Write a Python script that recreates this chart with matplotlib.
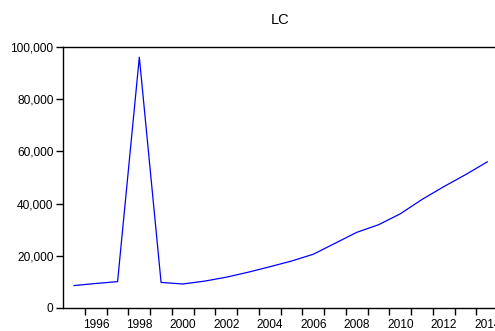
import matplotlib
matplotlib.use("Agg")
import matplotlib.pyplot as plt
import matplotlib.ticker as mticker
import numpy as np

# LC series, annual 1995-2014
years = list(range(1995, 2015))
lc = [8600, 9400, 10100, 96100, 9800, 9200, 10300, 11800, 13700, 15800,
      18000, 20600, 24800, 29000, 31900, 36100, 41600, 46500, 51100, 56000]

label_years = list(range(1996, 2015, 2))
y_ticks = [0, 20000, 40000, 60000, 80000, 100000]

plt.rcParams['font.family'] = ['Liberation Sans', 'DejaVu Sans']

fig = plt.figure(figsize=(4.95, 3.31), dpi=100)
# axes extends slightly past the right edge, like the cropped original
ax = fig.add_axes([63.2 / 495, 23 / 331, 435 / 495, 261 / 331])

ax.plot(years, lc, color='#0000ff', linewidth=0.9)

ax.set_xlim(1994.5, 2014.5)
ax.set_ylim(0, 100000)

# labels at even-year centres, tick marks at year boundaries
ax.set_xticks(label_years)
ax.set_xticklabels([str(y) for y in label_years])
ax.set_xticks(np.arange(1995.5, 2014.5, 1.0), minor=True)
ax.tick_params(axis='x', which='major', length=0, pad=8, labelsize=8.6)
ax.tick_params(axis='x', which='minor', length=5, width=1, direction='out')

ax.set_yticks(y_ticks)
ax.yaxis.set_major_formatter(mticker.FuncFormatter(lambda v, p: f"{int(v):,}"))
ax.tick_params(axis='y', length=5, width=1, direction='out', pad=2, labelsize=8.6)

for s in ['left', 'bottom', 'top', 'right']:
    ax.spines[s].set_linewidth(1)
    ax.spines[s].set_color('black')

fig.text(280 / 495, 1 - 20.5 / 331, "LC", ha='center', va='center', fontsize=10.5)

fig.savefig("out.png", dpi=100)
